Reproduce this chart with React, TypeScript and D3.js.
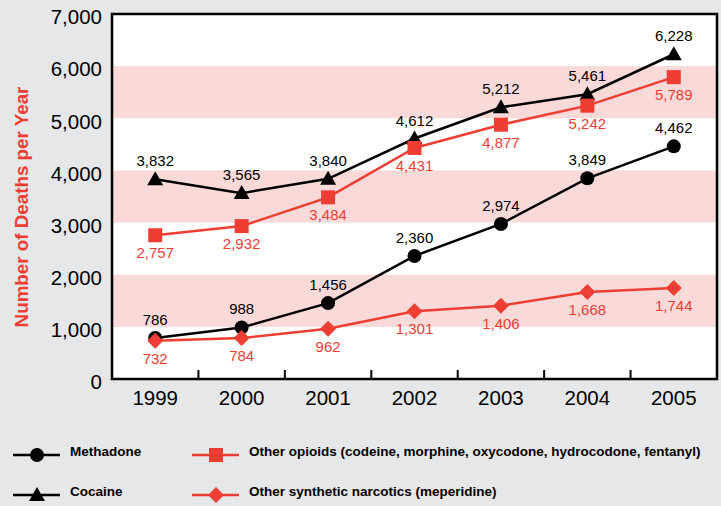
import React from "react";
import * as d3 from "d3";

const years = ["1999", "2000", "2001", "2002", "2003", "2004", "2005"];
const methadone = [786, 988, 1456, 2360, 2974, 3849, 4462];
const cocaine = [3832, 3565, 3840, 4612, 5212, 5461, 6228];
const otherOpioids = [2757, 2932, 3484, 4431, 4877, 5242, 5789];
const synthetic = [732, 784, 962, 1301, 1406, 1668, 1744];
const yTicks = [0, 1000, 2000, 3000, 4000, 5000, 6000, 7000];
const bands = [[1000, 2000], [3000, 4000], [5000, 6000]];

const RED = "#ee3e33";
const BLACK = "#000";
const FONT = "'Liberation Sans', Arial, Helvetica, sans-serif";

export default function App() {
  const W = 721, H = 506;
  const left = 112, right = 717, top = 14, bottom = 379;
  const x = d3.scaleBand().domain(years).range([left, right]);
  const cx = (i: number) => (x(years[i]) as number) + x.bandwidth() / 2;
  const y = d3.scaleLinear().domain([0, 7000]).range([bottom, top]);
  const line = d3.line<number>().x((_, i) => cx(i)).y((d) => y(d));
  const fmt = d3.format(",");

  const series = [
    { data: cocaine, color: BLACK, marker: "tri", above: true },
    { data: otherOpioids, color: RED, marker: "sq", above: false },
    { data: methadone, color: BLACK, marker: "circ", above: true },
    { data: synthetic, color: RED, marker: "dia", above: false },
  ];

  const marker = (type: string, px: number, py: number, color: string, key: any) => {
    if (type === "circ") return <circle key={key} cx={px} cy={py} r={7} fill={color} />;
    if (type === "sq") return <rect key={key} x={px - 7} y={py - 7} width={14} height={14} fill={color} />;
    if (type === "tri") {
      const p = `${px},${py - 8} ${px + 8},${py + 6} ${px - 8},${py + 6}`;
      return <polygon key={key} points={p} fill={color} />;
    }
    const p = `${px},${py - 8} ${px + 8},${py} ${px},${py + 8} ${px - 8},${py}`;
    return <polygon key={key} points={p} fill={color} />;
  };

  const legend = [
    { label: "Methadone", color: BLACK, marker: "circ", lx: 13, ly: 455 },
    { label: "Cocaine", color: BLACK, marker: "tri", lx: 13, ly: 495 },
    { label: "Other opioids (codeine, morphine, oxycodone, hydrocodone, fentanyl)", color: RED, marker: "sq", lx: 192, ly: 455 },
    { label: "Other synthetic narcotics (meperidine)", color: RED, marker: "dia", lx: 192, ly: 495 },
  ];

  return (
    <svg width={W} height={H} style={{ position: "absolute", left: 0, top: 0, display: "block" }} fontFamily={FONT}>
      <rect x={0} y={0} width={W} height={H} fill="#e6e7e9" />
      <rect x={left} y={top} width={right - left} height={bottom - top} fill="#fff" />
      {bands.map(([a, b], i) => (
        <rect key={i} x={left} y={y(b)} width={right - left} height={y(a) - y(b)} fill="#fad9d9" />
      ))}
      {years.slice(1).map((yr, i) => (
        <line key={i} x1={x(yr)} x2={x(yr)} y1={bottom} y2={bottom - 9} stroke="#000" strokeWidth={2} />
      ))}
      <rect x={left} y={top} width={right - left} height={bottom - top} fill="none" stroke="#000" strokeWidth={2.5} />
      {yTicks.map((t) => (
        <text key={t} x={left - 10} y={y(t)} dy="0.5em" textAnchor="end" fontSize={20.5} fill="#000">
          {fmt(t)}
        </text>
      ))}
      {years.map((yr, i) => (
        <text key={yr} x={cx(i)} y={bottom + 26} textAnchor="middle" fontSize={20.5} fill="#000">
          {yr}
        </text>
      ))}
      <text
        transform={`translate(28,207) rotate(-90)`}
        textAnchor="middle"
        fontSize={18.8}
        fontWeight="bold"
        fill={RED}
      >
        Number of Deaths per Year
      </text>
      {series.map((s, si) => (
        <g key={si}>
          <path d={line(s.data) as string} fill="none" stroke={s.color} strokeWidth={2.5} />
          {s.data.map((v, i) => marker(s.marker, cx(i), y(v), s.color, i))}
        </g>
      ))}
      {series.map((s, si) => (
        <g key={"l" + si}>
          {s.data.map((v, i) => (
            <text
              key={i}
              x={cx(i)}
              y={s.above ? y(v) - 13 : y(v) + 23}
              textAnchor="middle"
              fontSize={15}
              fill={s.color}
            >
              {fmt(v)}
            </text>
          ))}
        </g>
      ))}
      {legend.map((l, i) => (
        <g key={i}>
          <line x1={l.lx} x2={l.lx + 47} y1={l.ly} y2={l.ly} stroke={l.color} strokeWidth={2.5} />
          {marker(l.marker, l.lx + 24, l.ly, l.color, "m")}
          <text x={l.lx + 57} y={l.ly} dy="0.1em" fontSize={13.5} fontWeight="bold" fill="#000">
            {l.label}
          </text>
        </g>
      ))}
    </svg>
  );
}
